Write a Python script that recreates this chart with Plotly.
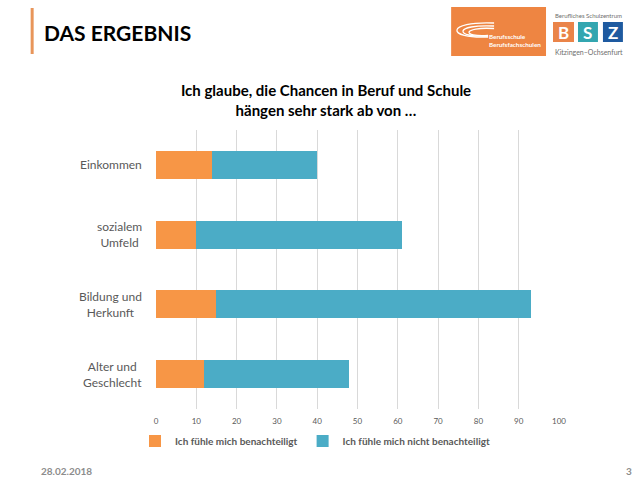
import plotly.graph_objects as go

# === Daten ===
categories = ["Einkommen", "sozialem<br>Umfeld", "Bildung und<br>Herkunft", "Alter und<br>Geschlecht"]
benachteiligt = [14, 10, 15, 12]
nicht_benachteiligt = [26, 51, 78, 36]
series_names = ["Ich fühle mich benachteiligt", "Ich fühle mich nicht benachteiligt"]
x_ticks = list(range(0, 101, 10))

ORANGE = "#F79646"
BLUE = "#4BACC6"
GREY = "#595959"
FONT = "Lato"

# plot area in pixels (640x480 slide)
L, R, T, B = 155.5, 559, 130, 409


def px(x):
    return (x - L) / (R - L)


def py(y):
    return (B - y) / (B - T)


fig = go.Figure()
fig.add_trace(go.Bar(y=categories, x=benachteiligt, name=f"<b>{series_names[0]}</b>",
                     orientation="h", marker=dict(color=ORANGE, line=dict(width=0))))
fig.add_trace(go.Bar(y=categories, x=nicht_benachteiligt, name=f"<b>{series_names[1]}</b>",
                     orientation="h", marker=dict(color=BLUE, line=dict(width=0))))

# Kategorie-Beschriftungen (zentriert, wie in PowerPoint)
annotations = []
for cat in categories:
    annotations.append(dict(x=0, xref="paper", y=cat, yref="y", text=cat,
                            xanchor="right", xshift=-12, align="center", showarrow=False,
                            font=dict(family=FONT, size=12, color=GREY)))

# Kopfzeile
annotations.append(dict(x=px(41), y=py(33), xref="paper", yref="paper", text="<b>DAS ERGEBNIS</b>",
                        xanchor="left", yanchor="middle", showarrow=False,
                        font=dict(family=FONT, size=21, color="#000000")))
# Fußzeile
annotations.append(dict(x=px(38), y=py(471), xref="paper", yref="paper", text="<b>28.02.2018</b>",
                        xanchor="left", yanchor="middle", showarrow=False,
                        font=dict(family=FONT, size=10, color="#8C8C8C")))
annotations.append(dict(x=px(634), y=py(471), xref="paper", yref="paper", text="<b>3</b>",
                        xanchor="right", yanchor="middle", showarrow=False,
                        font=dict(family=FONT, size=10, color="#8C8C8C")))

# Logo 1 (Berufsschule)
annotations.append(dict(x=px(487), y=py(40), xref="paper", yref="paper",
                        text="<b>Berufsschule<br>Berufsfachschulen</b>", xanchor="left", yanchor="middle",
                        align="left", showarrow=False,
                        font=dict(family=FONT, size=6.3, color="#FFFFFF")))
# Logo 2 (BSZ)
annotations.append(dict(x=px(553), y=py(15), xref="paper", yref="paper", text="Berufliches Schulzentrum",
                        xanchor="left", yanchor="middle", showarrow=False,
                        font=dict(family=FONT, size=6, color="#6E6E6E")))
annotations.append(dict(x=px(553), y=py(52), xref="paper", yref="paper", text="Kitzingen–Ochsenfurt",
                        xanchor="left", yanchor="middle", showarrow=False,
                        font=dict(family=FONT, size=7, color="#6E6E6E")))
for letter, cx in [("B", 563.5), ("S", 588), ("Z", 613)]:
    annotations.append(dict(x=px(cx), y=py(32), xref="paper", yref="paper", text=f"<b>{letter}</b>",
                            xanchor="center", yanchor="middle", showarrow=False,
                            font=dict(family=FONT, size=17, color="#FFFFFF")))

shapes = [
    # orange Balken links vom Titel
    dict(type="rect", xref="paper", yref="paper", x0=px(30), x1=px(33), y0=py(8), y1=py(54),
         fillcolor="#E8955A", line=dict(width=0)),
    # Logo-Hintergrund
    dict(type="rect", xref="paper", yref="paper", x0=px(451), x1=px(546), y0=py(7), y1=py(56),
         fillcolor="#EE8542", line=dict(width=0)),
    dict(type="rect", xref="paper", yref="paper", x0=px(553), x1=px(574), y0=py(22), y1=py(42),
         fillcolor="#EA8449", line=dict(width=0)),
    dict(type="rect", xref="paper", yref="paper", x0=px(578), x1=px(598), y0=py(22), y1=py(42),
         fillcolor="#33A6B0", line=dict(width=0)),
    dict(type="rect", xref="paper", yref="paper", x0=px(603), x1=px(623), y0=py(22), y1=py(42),
         fillcolor="#1E5AA0", line=dict(width=0)),
]
# Schwung im Logo
for w, h, yc in [(36, 7, 30), (30, 5, 31), (24, 3.5, 32)]:
    x_end = 494
    path = (f"M {px(x_end)},{py(yc - h)} "
            f"C {px(x_end - w * 1.35)},{py(yc - h - 2)} {px(x_end - w * 1.35)},{py(yc + h + 2)} "
            f"{px(x_end - 6)},{py(yc + h)}")
    shapes.append(dict(type="path", xref="paper", yref="paper", path=path,
                       line=dict(color="#FFFFFF", width=1.3)))

fig.update_layout(
    width=640, height=480,
    margin=dict(l=L, r=640 - R, t=T, b=480 - B, autoexpand=False),
    paper_bgcolor="white", plot_bgcolor="white",
    barmode="stack", bargap=0.6,
    title=dict(text="<b>Ich glaube, die Chancen in Beruf und Schule<br>hängen sehr stark ab von …</b>",
               x=326 / 640, xanchor="center", xref="container",
               y=1 - 96 / 480, yanchor="top", yref="container",
               font=dict(family=FONT, size=15, color="#000000")),
    xaxis=dict(range=[0, 100], tickvals=x_ticks, showgrid=True, gridcolor="#D9D9D9", gridwidth=1,
               zeroline=False, showline=False, ticks="", ticklabelstandoff=6,
               tickfont=dict(family=FONT, size=8, color=GREY), fixedrange=True),
    yaxis=dict(autorange="reversed", showticklabels=False, showgrid=False, zeroline=False,
               showline=False, ticks="", fixedrange=True),
    legend=dict(orientation="h", xref="container", x=135 / 640, xanchor="left",
                yref="container", y=1 - 441 / 480, yanchor="middle",
                font=dict(family=FONT, size=10, color=GREY), traceorder="normal"),
    annotations=annotations,
    shapes=shapes,
    showlegend=True,
)

fig.write_html("out.html", config={"displayModeBar": False},
               post_script="document.body.style.margin='0';")
